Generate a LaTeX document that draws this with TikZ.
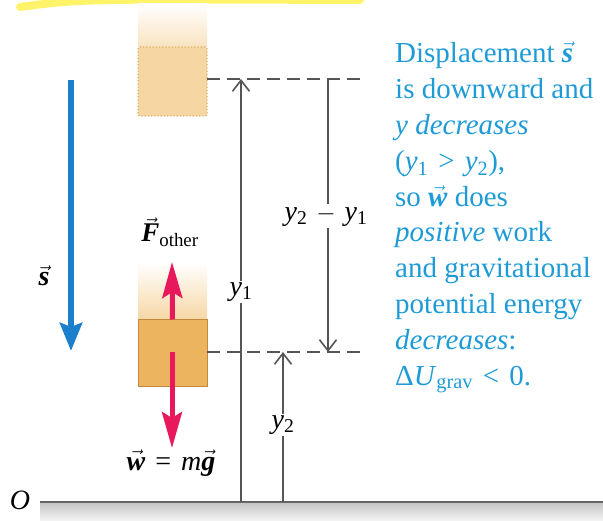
\documentclass[tikz,border=0pt]{standalone}
\usepackage{fontspec}
\setmainfont{Liberation Serif}
\usetikzlibrary{arrows.meta}
\definecolor{txtblue}{HTML}{1E9BD7}
\definecolor{sblue}{HTML}{1C7FCB}
\definecolor{fred}{HTML}{E8185C}
\definecolor{blockfill}{HTML}{ECB45F}
\definecolor{blockline}{HTML}{C48A3A}
\definecolor{ghostfill}{HTML}{F6D7A4}
\definecolor{ghostline}{HTML}{E0AE66}
\definecolor{dimgray}{HTML}{555555}
\definecolor{hilite}{HTML}{FFF36A}
\newcommand{\vecb}[1]{\ensuremath{\vec{\mbox{\bfseries\itshape #1}}}}
\newcommand{\iy}{\textit{y}}
\begin{document}
\begin{tikzpicture}[x=1pt,y=-1pt,
  dim/.style={draw=dimgray, line width=1.6pt},
  dimtip/.style={-{Straight Barb[length=11pt,width=17pt]}},
  dashline/.style={draw=dimgray, line width=1.6pt, dash pattern=on 13pt off 7pt},
  lbl/.style={font=\fontsize{28}{30}\selectfont, inner sep=2pt},
  cutlbl/.style={lbl, fill=white},
  redarrow/.style={draw=fred, line width=5pt, -{Stealth[length=36pt,width=20pt,inset=6pt]}},
  blockbox/.style={draw=blockline, line width=1pt, fill=blockfill, minimum width=69pt, minimum height=67pt, inner sep=0},
  ghostbox/.style={draw=ghostline, line width=1.2pt, dotted, fill=ghostfill, rounded corners=2pt, minimum width=69pt, minimum height=69pt, inner sep=0}]
\path[use as bounding box] (0,0) rectangle (603,521);
% highlighter stroke
\draw[hilite, line width=8pt, line cap=round] (20,7) .. controls (80,-1) .. (360,0);
% ghost (initial) block
\shade[top color=white, bottom color=ghostfill!70] (138,4) rectangle (207,47);
\node[ghostbox] (ghost) at (172.5,81.5) {};
% lower block fade
\shade[top color=white, bottom color=ghostfill] (138,262) rectangle (207,320);
\node[blockbox] (block) at (172.5,353.5) {};
% ground
\shade[top color=gray!45, bottom color=gray!8] (40,503) rectangle (603,521);
\coordinate (g0) at (40,502);
\coordinate (g1) at (603,502);
\draw[draw=gray!80!black, line width=1.8pt] (g0) -- (g1);
\node[lbl, font=\fontsize{28}{30}\selectfont\itshape] (O) at (20,500) {O};
% dashed levels
\coordinate (d1a) at (207,79);  \coordinate (d1b) at (360,79);
\coordinate (d2a) at (207,352); \coordinate (d2b) at (360,352);
\draw[dashline] (d1a) -- (d1b);
\draw[dashline] (d2a) -- (d2b);
% y1
\coordinate (y1b) at (241,502); \coordinate (y1t) at (241,79);
\draw[dim, dimtip] (y1b) -- (y1t);
\node[cutlbl] (y1l) at (241,292) {\iy\textsubscript{1}};
% y2
\coordinate (y2b) at (283,502); \coordinate (y2t) at (283,352);
\draw[dim, dimtip] (y2b) -- (y2t);
\node[cutlbl] (y2l) at (283,425) {\iy\textsubscript{2}};
% y2 - y1
\coordinate (dyt) at (328,79); \coordinate (dyb) at (328,352);
\draw[dim, dimtip] (dyt) -- (dyb);
\node[cutlbl] (dyl) at (326,216) {\iy\textsubscript{2}\hspace{9pt}\ensuremath{-}\hspace{9pt}\iy\textsubscript{1}};
% forces
\coordinate (fup) at (172,262);
\coordinate (wst) at (172,352);
\coordinate (wend) at (172,448);
\draw[redarrow] (block.north) -- (fup);
\draw[redarrow] (wst) -- (wend);
\node[lbl, font=\fontsize{27}{30}\selectfont] (Fl) at (170,232) {\vecb{F}\textsubscript{other}};
\node[lbl] (wl) at (171,463) {\vecb{w}\hspace{10pt}=\hspace{10pt}\textit{m}\vecb{g}};
% displacement
\coordinate (s0) at (71,80);
\coordinate (s1) at (71,351);
\draw[draw=sblue, line width=6.5pt, -{Stealth[length=28pt,width=22pt,inset=4pt]}] (s0) -- (s1);
\node[lbl] (sl) at (44,276) {\vecb{s}};
% explanatory text
\node[anchor=north west, inner sep=0, align=left, text=txtblue,
      font=\fontsize{29}{35.8}\selectfont] (txt) at (395,42) {%
Displacement \vecb{s}\\
is downward and\\
\textit{y decreases}\\
(\iy\textsubscript{1}\hspace{10pt}>\hspace{10pt}\iy\textsubscript{2}),\\
so \vecb{w} does\\
\textit{positive} work\\
and gravitational\\
potential energy\\
\textit{decreases}:\\
Δ\textit{U}\textsubscript{grav}\hspace{10pt}<\hspace{10pt}0.};
\end{tikzpicture}
\end{document}
